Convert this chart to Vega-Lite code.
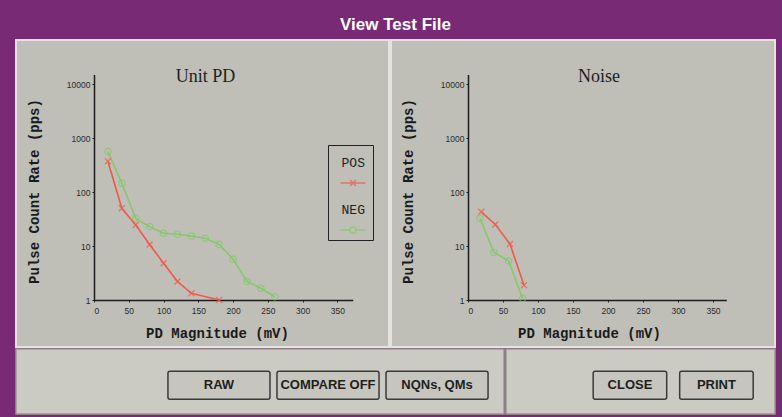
{
  "$schema": "https://vega.github.io/schema/vega-lite/v6.json",
  "background": "#792a74",
  "padding": {"left": 15, "top": 16, "right": 10, "bottom": 5},
  "title": {"text": "View Test File", "color": "#ffffff", "font": "Liberation Sans Narrow, Liberation Sans", "fontSize": 17, "fontWeight": "bold", "anchor": "middle", "offset": 5},
  "datasets": {
    "unitpd": [
      {"mv": 20, "rate": 370, "series": "POS"},
      {"mv": 40, "rate": 50, "series": "POS"},
      {"mv": 60, "rate": 24.5, "series": "POS"},
      {"mv": 80, "rate": 10.7, "series": "POS"},
      {"mv": 100, "rate": 4.8, "series": "POS"},
      {"mv": 120, "rate": 2.2, "series": "POS"},
      {"mv": 140, "rate": 1.33, "series": "POS"},
      {"mv": 180, "rate": 1.0, "series": "POS"},
      {"mv": 20, "rate": 560, "series": "NEG"},
      {"mv": 40, "rate": 145, "series": "NEG"},
      {"mv": 60, "rate": 32.5, "series": "NEG"},
      {"mv": 80, "rate": 22.8, "series": "NEG"},
      {"mv": 100, "rate": 17.2, "series": "NEG"},
      {"mv": 120, "rate": 16.5, "series": "NEG"},
      {"mv": 140, "rate": 15.3, "series": "NEG"},
      {"mv": 160, "rate": 13.9, "series": "NEG"},
      {"mv": 180, "rate": 10.7, "series": "NEG"},
      {"mv": 200, "rate": 5.7, "series": "NEG"},
      {"mv": 220, "rate": 2.2, "series": "NEG"},
      {"mv": 240, "rate": 1.65, "series": "NEG"},
      {"mv": 260, "rate": 1.15, "series": "NEG"}
    ],
    "noise": [
      {"mv": 19, "rate": 43, "series": "POS"},
      {"mv": 39, "rate": 25, "series": "POS"},
      {"mv": 60, "rate": 10.9, "series": "POS"},
      {"mv": 80, "rate": 1.87, "series": "POS"},
      {"mv": 17, "rate": 32.6, "series": "NEG"},
      {"mv": 37, "rate": 7.6, "series": "NEG"},
      {"mv": 58, "rate": 5.3, "series": "NEG"},
      {"mv": 78, "rate": 1.07, "series": "NEG"}
    ]
  },
  "spacing": 0,
  "vconcat": [
    {
      "spacing": 0,
      "hconcat": [
        {
          "width": 373,
          "height": 307,
          "view": {"fill": "#bfbfb8", "stroke": "#e4e4de", "strokeWidth": 2},
          "title": {"text": "Unit PD", "font": "Liberation Serif", "fontSize": 18, "fontWeight": "normal", "color": "#1e1e1e", "offset": -64, "dx": 3, "anchor": "middle", "baseline": "bottom"},
          "data": {"name": "unitpd"},
          "layer": [
            {
              "transform": [{"filter": "datum.rate < 0"}],
              "mark": {"type": "point", "filled": false},
              "encoding": {
                "color": {"field": "series", "type": "nominal", "title": null, "scale": {"domain": ["POS", "NEG"], "range": ["#ee5a4a", "#86c86a"]}, "legend": {"legendX": 312, "legendY": 105}},
                "shape": {"field": "series", "type": "nominal", "title": null, "scale": {"domain": ["POS", "NEG"], "range": ["M-0.625,0.65H0.625M-0.15,0.5L0.15,0.8M-0.15,0.8L0.15,0.5", "M-0.625,0.65H-0.15M0.15,0.65H0.625M0.15,0.65A0.15,0.15 0 1,1 -0.15,0.65A0.15,0.15 0 1,1 0.15,0.65"]}, "legend": {"legendX": 312, "legendY": 105}}
              }
            },
            {
              "mark": {"type": "line", "strokeWidth": 1.6},
              "encoding": {
                "x": {"field": "mv", "type": "quantitative", "scale": {"domain": [0, 372], "range": [78, 336.7], "nice": false, "zero": false}, "axis": {"values": [0, 50, 100, 150, 200, 250, 300, 350], "offset": -47, "labelPadding": 4, "title": "PD Magnitude (mV)", "titleX": 201, "titleY": 33, "titleBaseline": "middle"}},
                "y": {"field": "rate", "type": "quantitative", "scale": {"type": "log", "domain": [1, 15000], "range": [260, 34.5], "nice": false}, "axis": {"values": [1, 10, 100, 1000, 10000], "format": "d", "offset": -78, "labelPadding": 2, "title": "Pulse Count Rate (pps)", "titleX": -60, "titleY": 151, "titleAngle": -90, "titleBaseline": "middle", "titleAlign": "center"}},
                "color": {"field": "series", "type": "nominal", "title": null, "scale": {"domain": ["POS", "NEG"], "range": ["#ee5a4a", "#86c86a"]}}
              }
            },
            {
              "transform": [{"filter": "datum.series === 'POS'"}],
              "mark": {"type": "point", "filled": false, "shape": "M-1,-1L1,1M-1,1L1,-1", "size": 36, "strokeWidth": 1.3},
              "encoding": {
                "x": {"field": "mv", "type": "quantitative"},
                "y": {"field": "rate", "type": "quantitative"},
                "color": {"field": "series", "type": "nominal", "title": null}
              }
            },
            {
              "transform": [{"filter": "datum.series === 'NEG'"}],
              "mark": {"type": "point", "filled": false, "shape": "circle", "size": 40, "strokeWidth": 1.3},
              "encoding": {
                "x": {"field": "mv", "type": "quantitative"},
                "y": {"field": "rate", "type": "quantitative"},
                "color": {"field": "series", "type": "nominal", "title": null}
              }
            }
          ]
        },
        {
          "width": 384,
          "height": 307,
          "view": {"fill": "#bfbfb8", "stroke": "#e4e4de", "strokeWidth": 2},
          "title": {"text": "Noise", "font": "Liberation Serif", "fontSize": 18, "fontWeight": "normal", "color": "#1e1e1e", "offset": -64, "dx": 16, "anchor": "middle", "baseline": "bottom"},
          "data": {"name": "noise"},
          "layer": [
            {
              "transform": [{"filter": "datum.rate < 0"}],
              "mark": {"type": "point", "filled": false},
              "encoding": {
                "color": {"field": "series", "type": "nominal", "title": null, "scale": {"domain": ["POS", "NEG"], "range": ["#ee5a4a", "#86c86a"]}, "legend": {"legendX": 310, "legendY": 105}},
                "shape": {"field": "series", "type": "nominal", "title": null, "scale": {"domain": ["POS", "NEG"], "range": ["M-0.625,0.65H0.625M-0.15,0.5L0.15,0.8M-0.15,0.8L0.15,0.5", "M-0.625,0.65H-0.15M0.15,0.65H0.625M0.15,0.65A0.15,0.15 0 1,1 -0.15,0.65A0.15,0.15 0 1,1 0.15,0.65"]}, "legend": {"legendX": 310, "legendY": 105}}
              }
            },
            {
              "mark": {"type": "line", "strokeWidth": 1.6},
              "encoding": {
                "x": {"field": "mv", "type": "quantitative", "scale": {"domain": [0, 369], "range": [77, 335.3], "nice": false, "zero": false}, "axis": {"values": [0, 50, 100, 150, 200, 250, 300, 350], "offset": -47, "labelPadding": 4, "title": "PD Magnitude (mV)", "titleX": 198, "titleY": 33, "titleBaseline": "middle"}},
                "y": {"field": "rate", "type": "quantitative", "scale": {"type": "log", "domain": [1, 15000], "range": [260, 34.5], "nice": false}, "axis": {"values": [1, 10, 100, 1000, 10000], "format": "d", "offset": -77, "labelPadding": 2, "title": "Pulse Count Rate (pps)", "titleX": -60, "titleY": 151, "titleAngle": -90, "titleBaseline": "middle", "titleAlign": "center"}},
                "color": {"field": "series", "type": "nominal", "title": null, "scale": {"domain": ["POS", "NEG"], "range": ["#ee5a4a", "#86c86a"]}}
              }
            },
            {
              "transform": [{"filter": "datum.series === 'POS'"}],
              "mark": {"type": "point", "filled": false, "shape": "M-1,-1L1,1M-1,1L1,-1", "size": 36, "strokeWidth": 1.3},
              "encoding": {
                "x": {"field": "mv", "type": "quantitative"},
                "y": {"field": "rate", "type": "quantitative"},
                "color": {"field": "series", "type": "nominal", "title": null}
              }
            },
            {
              "transform": [{"filter": "datum.series === 'NEG'"}],
              "mark": {"type": "point", "filled": false, "shape": "circle", "size": 40, "strokeWidth": 1.3},
              "encoding": {
                "x": {"field": "mv", "type": "quantitative"},
                "y": {"field": "rate", "type": "quantitative"},
                "color": {"field": "series", "type": "nominal", "title": null}
              }
            }
          ]
        }
      ]
    },
    {
      "spacing": 0,
      "hconcat": [
        {
          "width": 488,
          "height": 65,
          "view": {"fill": "#cbcbc4", "stroke": "#9a9a93", "strokeWidth": 1.5},
          "data": {"values": [{"label": "RAW"}, {"label": "COMPARE OFF"}, {"label": "NQNs, QMs"}]},
          "layer": [
            {
              "mark": {"type": "rect", "fill": "#c6c6bf", "stroke": "#3a3a3a", "strokeWidth": 1.5, "cornerRadius": 2},
              "encoding": {
                "x": {"field": "label", "type": "nominal", "sort": null, "scale": {"paddingInner": 0.064, "paddingOuter": 0.77, "align": 0.905}, "axis": null},
                "y": {"datum": "button", "type": "nominal", "scale": {"paddingInner": 0, "paddingOuter": 0.66, "align": 0.6}, "axis": null}
              }
            },
            {
              "mark": {"type": "text", "font": "Liberation Sans", "fontSize": 13, "fontWeight": "bold", "color": "#1e1e1e"},
              "encoding": {
                "x": {"field": "label", "type": "nominal", "sort": null},
                "y": {"datum": "button", "type": "nominal"},
                "text": {"field": "label"}
              }
            }
          ]
        },
        {
          "width": 269,
          "height": 65,
          "view": {"fill": "#cbcbc4", "stroke": "#9a9a93", "strokeWidth": 1.5},
          "data": {"values": [{"label": "CLOSE"}, {"label": "PRINT"}]},
          "layer": [
            {
              "mark": {"type": "rect", "fill": "#c6c6bf", "stroke": "#3a3a3a", "strokeWidth": 1.5, "cornerRadius": 2},
              "encoding": {
                "x": {"field": "label", "type": "nominal", "sort": null, "scale": {"paddingInner": 0.15, "paddingOuter": 0.63, "align": 0.8}, "axis": null},
                "y": {"datum": "button", "type": "nominal", "scale": {"paddingInner": 0, "paddingOuter": 0.66, "align": 0.6}, "axis": null}
              }
            },
            {
              "mark": {"type": "text", "font": "Liberation Sans", "fontSize": 13, "fontWeight": "bold", "color": "#1e1e1e"},
              "encoding": {
                "x": {"field": "label", "type": "nominal", "sort": null},
                "y": {"datum": "button", "type": "nominal"},
                "text": {"field": "label"}
              }
            }
          ]
        }
      ]
    }
  ],
  "config": {
    "axis": {"domainColor": "#1c1c1c", "domainWidth": 1.5, "tickColor": "#1c1c1c", "tickSize": 2, "labelFont": "Liberation Sans", "labelFontSize": 8.5, "labelColor": "#2a2a2a", "titleFont": "Liberation Mono", "titleFontSize": 14, "titleFontWeight": "bold", "titleColor": "#1a1a1a", "grid": false},
    "legend": {"orient": "none", "strokeColor": "#222222", "padding": 4, "labelFont": "Liberation Mono", "labelFontSize": 13, "labelColor": "#222222", "labelAlign": "center", "labelBaseline": "bottom", "labelOffset": -20.75, "symbolSize": 1600, "symbolStrokeWidth": 1.5, "rowPadding": 7}
  }
}
